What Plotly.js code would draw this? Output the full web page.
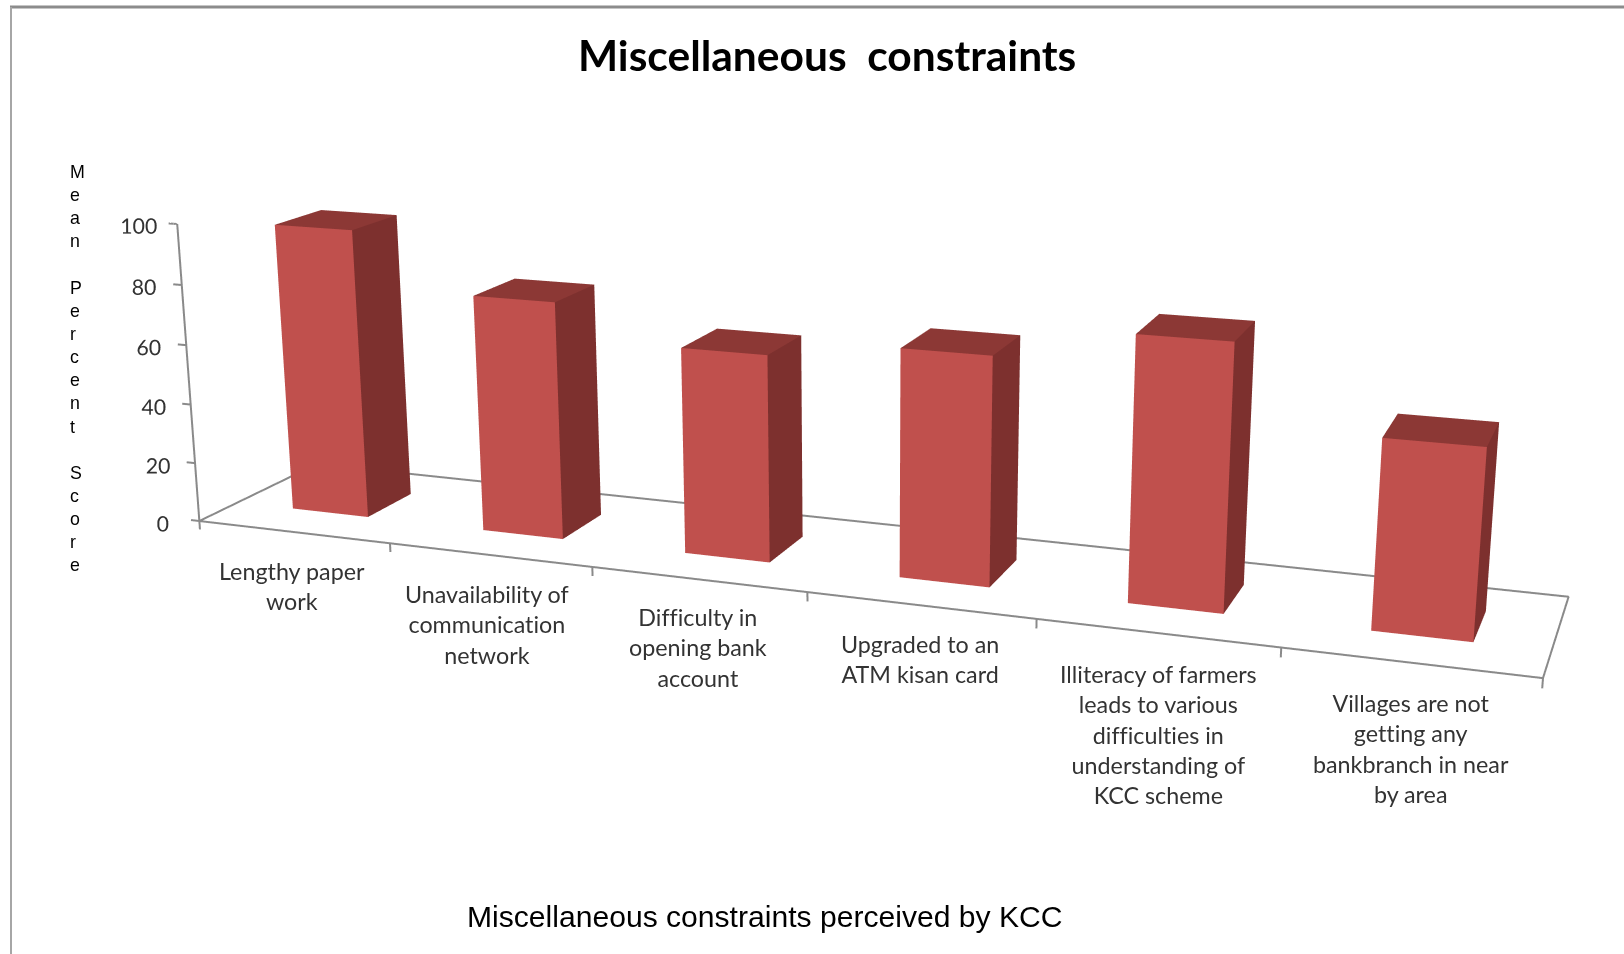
<!DOCTYPE html>
<html><head><meta charset="utf-8"><script src="https://cdn.plot.ly/plotly-3.0.1.min.js"></script>
<style>html,body{margin:0;padding:0;background:#fff;width:1624px;height:954px;overflow:hidden;position:relative}
#c{position:absolute;left:0;top:-596px;width:1624px;height:2146px}
svg text{font-variant-ligatures:none !important}</style></head><body><div id="c"></div>
<script>
const categories=["Lengthy paper<br>work","Unavailability of<br>communication<br>network","Difficulty in<br>opening bank<br>account","Upgraded to an<br>ATM kisan card","Illiteracy of farmers<br>leads to various<br>difficulties in<br>understanding of<br>KCC scheme","Villages are not<br>getting any<br>bankbranch in near<br>by area"];
const values=[97,78.4,67,72.6,82.5,57.9];
const yTicks=[0,20,40,60,80,100];
const xTicks=[0,1,2,3,4,5,6];
const titleText='Miscellaneous  constraints';
const yTitleLetters=['M','e','a','n','&nbsp;','P','e','r','c','e','n','t','&nbsp;','S','c','o','r','e'];
const caption='Miscellaneous constraints perceived by KCC';
const labelX=[292,487,698,920,1158,1411];
const labelTop=[555,578,601,628,658,687];
const barWidth=0.4013, y0=0.3126, y1=0.7012;
const tickX=-0.045, tickZ=-3;
const frontColor='#C0504D', sideColor='#7D302E', topColor='#8C3835', axisColor='#8A8A8A', inkColor='#333333';
const OFFSET=596, H=2146, W=1624;
const px=x=>x/W, py=y=>1-(y+OFFSET)/H;
const X=[],Y=[],Z=[],I=[],J=[],K=[],F=[];
values.forEach((v,n)=>{
  const x0=n+0.5-barWidth/2,x1=n+0.5+barWidth/2,b=X.length;
  [[x0,y0,0],[x1,y0,0],[x1,y1,0],[x0,y1,0],[x0,y0,v],[x1,y0,v],[x1,y1,v],[x0,y1,v]].forEach(p=>{X.push(p[0]);Y.push(p[1]);Z.push(p[2]);});
  [[0,1,5,frontColor],[0,5,4,frontColor],[1,2,6,sideColor],[1,6,5,sideColor],[4,5,6,topColor],[4,6,7,topColor]].forEach(f=>{I.push(b+f[0]);J.push(b+f[1]);K.push(b+f[2]);F.push(f[3]);});
});
const lx=[0,6,6,0,0,null,0,0],ly=[0,0,1,1,0,null,0,0],lz=[0,0,0,0,0,null,0,100];
xTicks.forEach(t=>{lx.push(null,t,t);ly.push(null,0,0);lz.push(null,0,tickZ);});
yTicks.forEach(t=>{lx.push(null,0,tickX);ly.push(null,0,0);lz.push(null,t,t);});
const base={showgrid:false,zeroline:false,showbackground:false,showspikes:false,showline:false,title:{text:''},ticks:''};
const annotations=categories.map((t,n)=>({xref:'paper',yref:'paper',x:px(labelX[n]),y:py(labelTop[n]),xanchor:'center',yanchor:'top',text:t,showarrow:false,align:'center',font:{family:'Lato',size:23.3,color:inkColor}}));
annotations.push({xref:'paper',yref:'paper',x:px(68),y:py(160),xanchor:'left',yanchor:'top',align:'left',text:yTitleLetters.join('<br>'),showarrow:false,font:{family:'Liberation Sans',size:17.8,color:'#000'}});
annotations.push({xref:'paper',yref:'paper',x:px(764),y:py(916),xanchor:'center',yanchor:'middle',text:caption,showarrow:false,font:{family:'Liberation Sans',size:30.1,color:'#000'}});
annotations.push({xref:'paper',yref:'paper',x:px(827),y:py(54),xanchor:'center',yanchor:'middle',text:'<b>'+titleText+'</b>',showarrow:false,font:{family:'Lato',size:42.5,color:'#000'}});
Plotly.newPlot('c',[
 {type:'mesh3d',x:X,y:Y,z:Z,i:I,j:J,k:K,facecolor:F,flatshading:true,lighting:{ambient:1,diffuse:0,specular:0,roughness:1,fresnel:0},hoverinfo:'skip'},
 {type:'scatter3d',mode:'lines',x:lx,y:ly,z:lz,connectgaps:false,line:{color:axisColor,width:4},hoverinfo:'skip'}
],{
 width:W,height:H,margin:{l:0,r:0,t:0,b:0},paper_bgcolor:'#fff',showlegend:false,annotations,
 shapes:[
  {type:'line',xref:'paper',yref:'paper',x0:px(10),x1:px(1624),y0:py(7),y1:py(7),line:{color:'#8C8C8C',width:3}},
  {type:'line',xref:'paper',yref:'paper',x0:px(11),x1:px(11),y0:py(7),y1:py(954),line:{color:'#A6A6A6',width:2}}
 ],
 scene:{domain:{x:[0,1],y:[0,1]},dragmode:'orbit',aspectmode:'manual',aspectratio:{x:3.0775,y:0.5125,z:0.71297},
  camera:{projection:{type:'perspective'},eye:{x:1.89225,y:-5.0761,z:1.40618},center:{x:-0.05785,y:0,z:-0.16172},up:{x:0.00529,y:0.00203,z:1}},
  xaxis:Object.assign({},base,{range:[-0.135,6.02],showticklabels:false}),
  yaxis:Object.assign({},base,{range:[0,1],showticklabels:false}),
  zaxis:Object.assign({},base,{range:[tickZ,100],tickmode:'array',tickvals:yTicks,ticktext:yTicks.map(String),tickangle:0,tickfont:{family:'Lato',size:16,color:inkColor}})
 }
},{displayModeBar:false});
</script></body></html>
